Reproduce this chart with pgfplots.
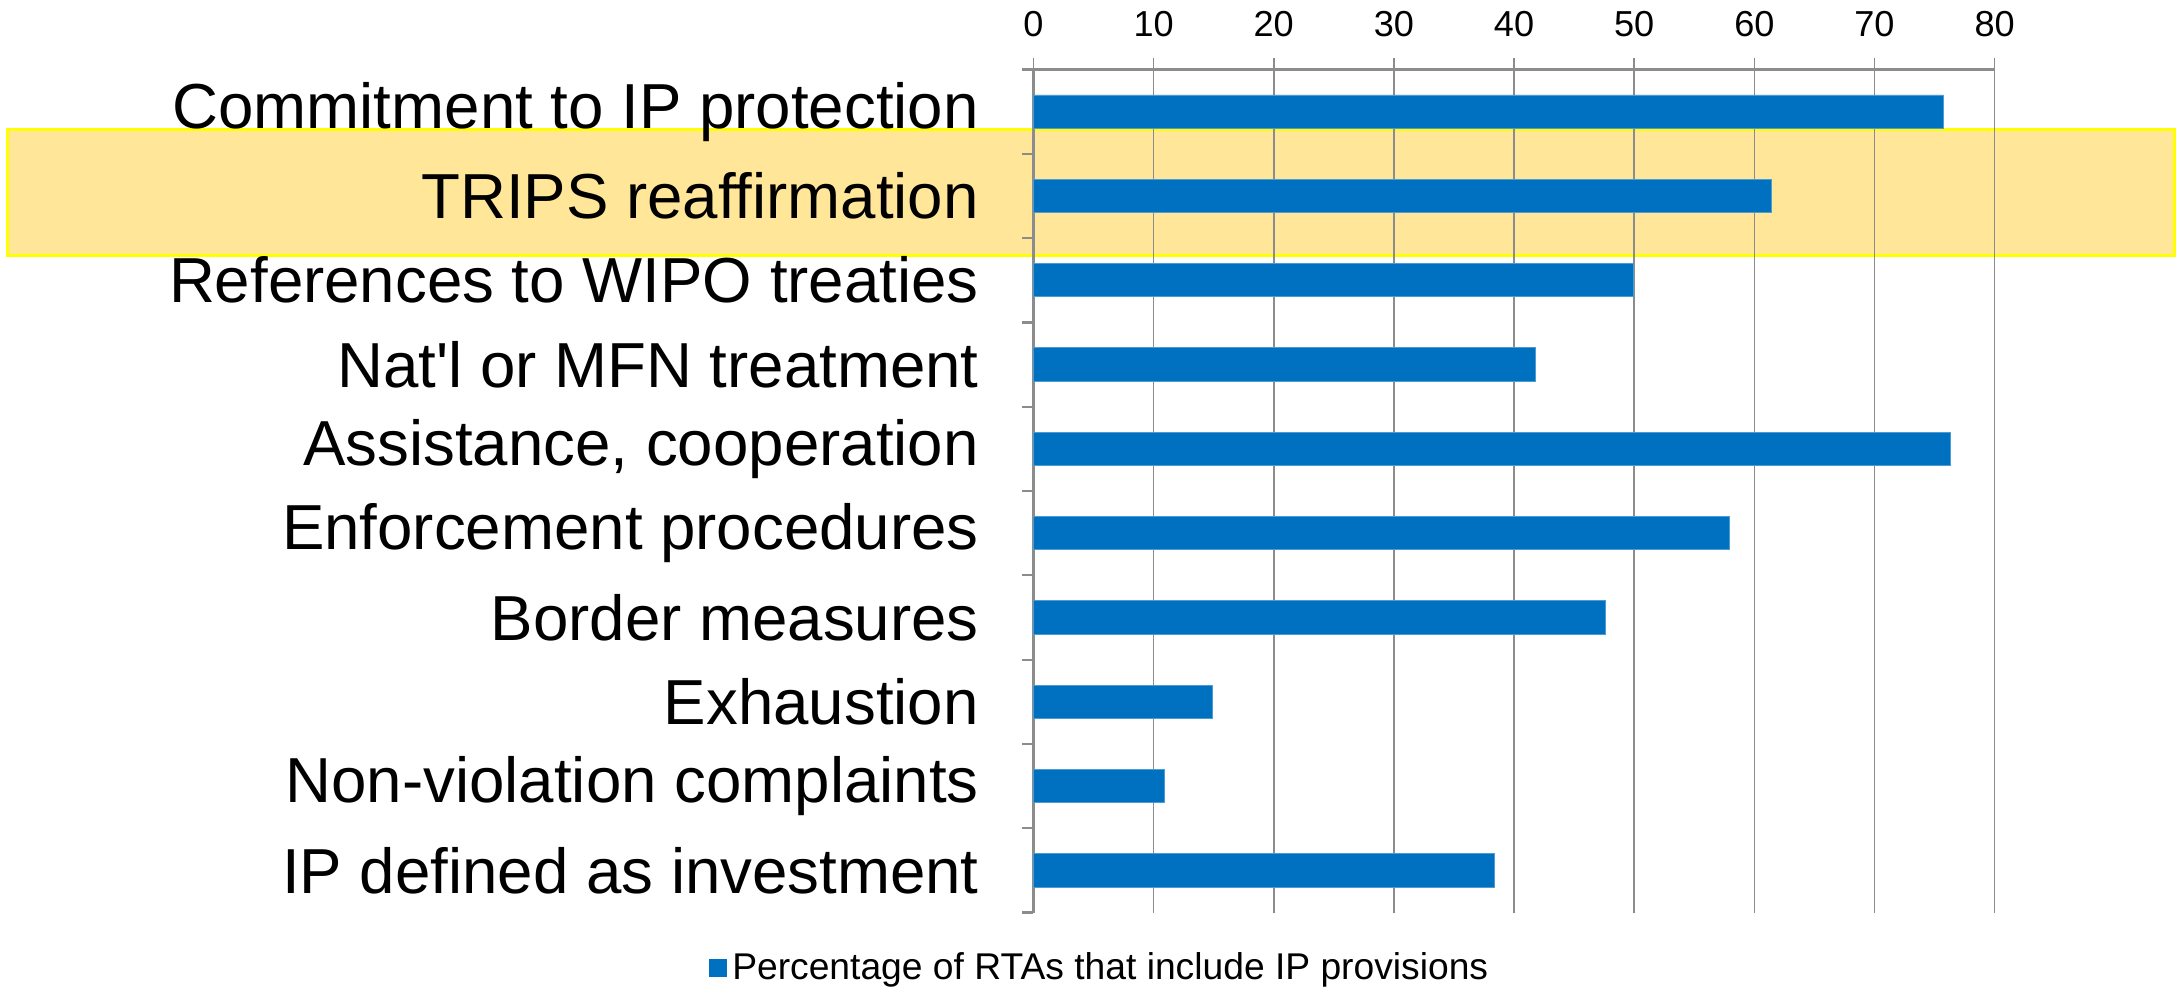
\documentclass[border=0pt]{standalone}
\usepackage{pgfplots}
\pgfplotsset{compat=1.18}
\usepackage{fontspec}
\setmainfont{Liberation Sans}
\definecolor{barblue}{HTML}{0070C0}
\definecolor{gridgray}{HTML}{8C8C8C}
\definecolor{hlfill}{HTML}{FFE699}
\definecolor{hlline}{HTML}{FFFF00}
\begin{document}
\begin{tikzpicture}
\begin{axis}[
  name=ax,
  set layers,
  clip=false,
  width=346pt, height=303.5pt,
  scale only axis,
  xbar,
  bar width=12pt,
  xmin=0, xmax=80,
  ymin=-0.5, ymax=9.5,
  y dir=reverse,
  axis x line*=top,
  axis y line*=left,
  axis line style={draw=gridgray, line width=0.8pt},
  xtick={0,10,...,80},
  xmajorgrids,
  grid style={draw=gridgray, line width=0.6pt},
  tick align=outside,
  major tick length=4pt,
  x tick style={draw=gridgray, line width=0.6pt},
  xticklabel style={font=\fontsize{13}{14}\selectfont, inner sep=0pt, yshift=7.5pt},
  /pgf/number format/assume math mode=true,
  ytick={0,...,9},
  yticklabels={Commitment to IP protection, TRIPS reaffirmation, References to WIPO treaties, {Nat\textquotesingle l or MFN treatment}, {Assistance, cooperation}, Enforcement procedures, Border measures, Exhaustion, Non-violation complaints, IP defined as investment},
  y tick style={draw=none},
  minor ytick={-0.5,0.5,...,9.5},
  minor y tick style={draw=gridgray, line width=0.8pt},
  minor tick length=4pt,
  yticklabel style={font=\fontsize{22.9}{24}\selectfont, inner sep=0pt, xshift=-15.5pt},
  legend style={at={(0.0708,-0.0659)}, anchor=center, draw=none, fill=none,
    font=\fontsize{13.4}{14}\selectfont, inner sep=0pt,
    /tikz/every even column/.append style={column sep=0pt}},
  legend image code/.code={\fill[barblue] (0pt,-3pt) rectangle (6pt,3pt);},
  legend cell align=left,
]
\begin{pgfonlayer}{axis background}
\draw[fill=hlfill, draw=hlline, line width=1pt]
  (axis cs:-85.4,0.208) rectangle (axis cs:95.0,1.708);
\end{pgfonlayer}
\addplot[fill=barblue, draw=barblue!70!white, line width=0.3pt] coordinates {
  (75.7,0) (61.4,1) (49.9,2) (41.8,3) (76.3,4)
  (57.9,5) (47.6,6) (14.9,7) (10.9,8) (38.4,9)
};
\addlegendentry{Percentage of RTAs that include IP provisions}
\end{axis}
\path ([xshift=-372pt,yshift=25pt]ax.north west) rectangle ([xshift=66pt,yshift=-30pt]ax.south east);
\end{tikzpicture}
\end{document}
